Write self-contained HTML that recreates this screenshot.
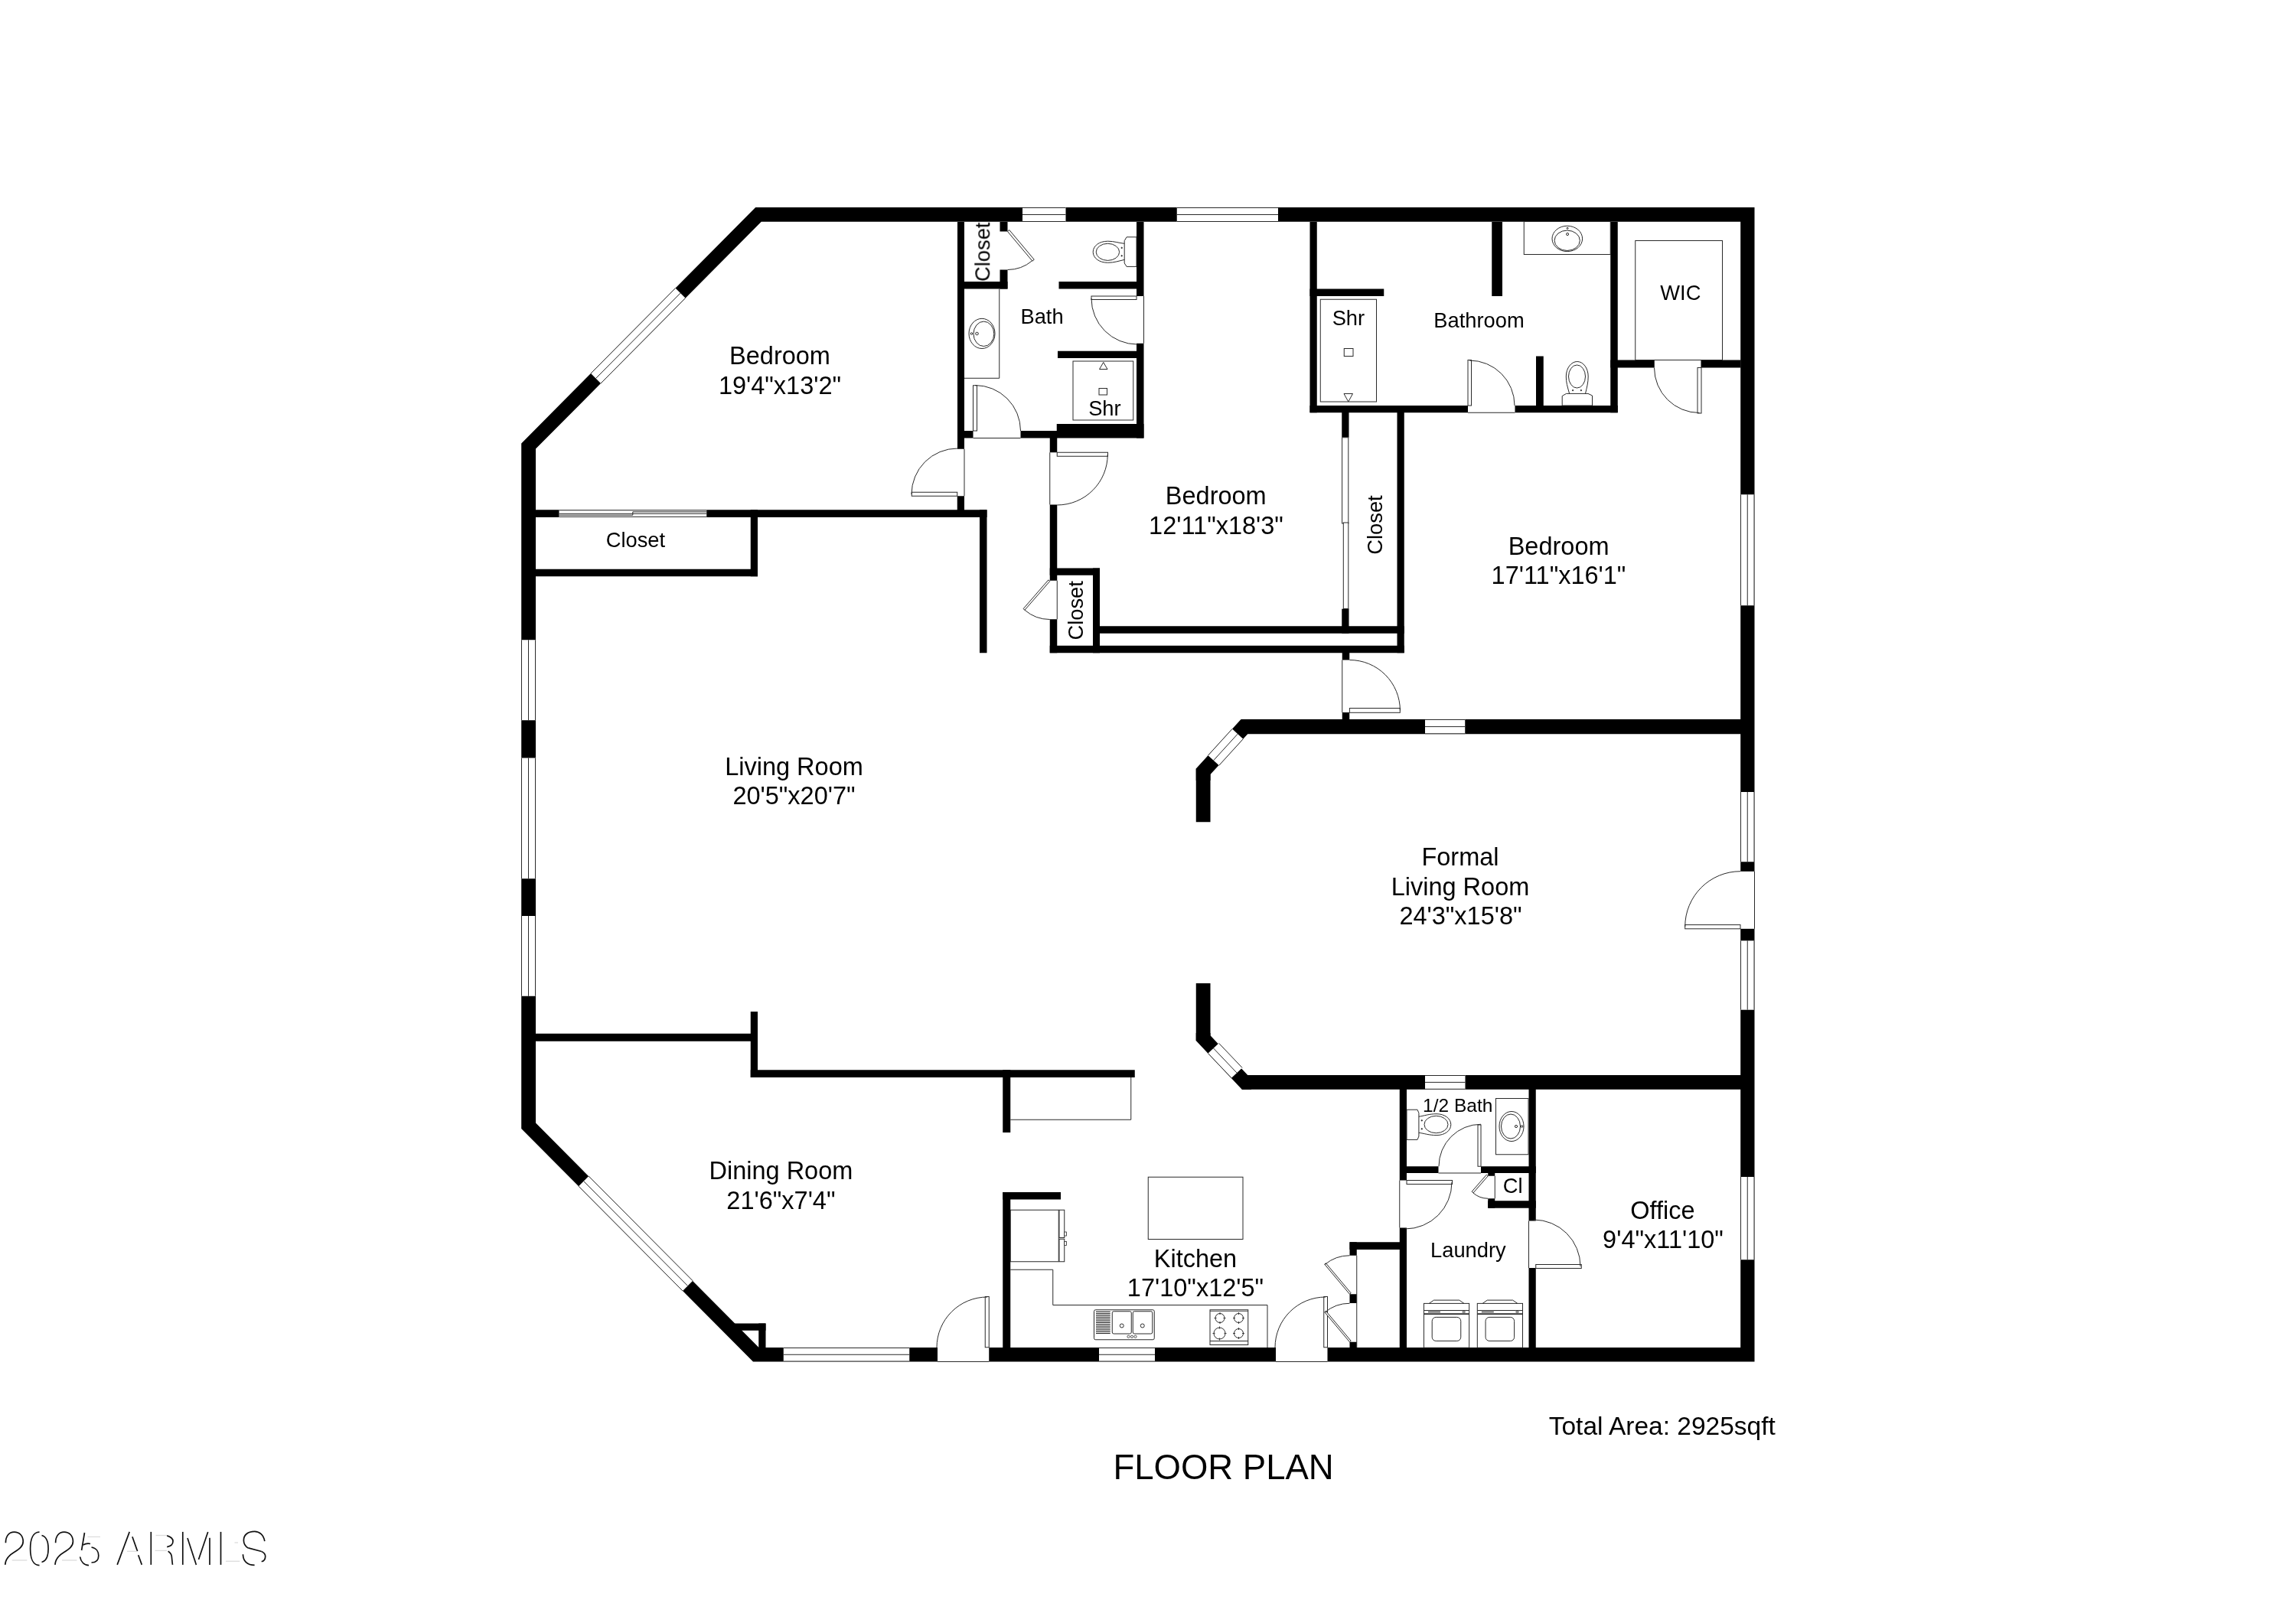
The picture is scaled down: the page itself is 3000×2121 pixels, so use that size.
<!DOCTYPE html>
<html><head><meta charset="utf-8"><title>Floor Plan</title>
<style>
html,body{margin:0;padding:0;background:#fff;}
svg{display:block;}
text{font-family:"Liberation Sans",sans-serif;}
</style></head>
<body>
<svg width="3000" height="2121" viewBox="0 0 3000 2121">
<rect x="0" y="0" width="3000" height="2121" fill="#fff"/>
<path fill="#000" fill-rule="evenodd" d="M987.2,271 L2292.5,271 L2292.5,1779.5 L984,1779.5 L681.2,1475 L681.2,579.4 Z M994.75,289.8 L2274.2,289.8 L2274.2,1761 L991.5,1761 L700,1467.5 L700,586.6 Z"/>
<rect x="1251.00" y="290.00" width="9.00" height="296.75" fill="#000"/>
<rect x="1306.50" y="290.00" width="10.00" height="12.50" fill="#000"/>
<rect x="1306.50" y="352.50" width="10.00" height="25.00" fill="#000"/>
<rect x="1251.00" y="368.00" width="65.50" height="9.50" fill="#000"/>
<rect x="1383.50" y="368.00" width="110.50" height="9.50" fill="#000"/>
<rect x="1485.00" y="290.00" width="9.50" height="97.00" fill="#000"/>
<rect x="1485.00" y="448.75" width="9.50" height="123.75" fill="#000"/>
<rect x="1382.00" y="458.75" width="103.00" height="9.25" fill="#000"/>
<rect x="1251.00" y="563.00" width="20.50" height="9.50" fill="#000"/>
<rect x="1333.50" y="563.00" width="47.25" height="9.50" fill="#000"/>
<rect x="1380.75" y="554.00" width="113.75" height="18.50" fill="#000"/>
<rect x="1371.75" y="563.00" width="9.50" height="28.25" fill="#000"/>
<rect x="1371.75" y="659.50" width="9.50" height="99.25" fill="#000"/>
<rect x="1371.75" y="809.25" width="9.50" height="44.00" fill="#000"/>
<rect x="1371.75" y="742.50" width="65.25" height="9.25" fill="#000"/>
<rect x="1428.00" y="742.50" width="9.00" height="110.75" fill="#000"/>
<rect x="1428.00" y="818.25" width="406.75" height="9.50" fill="#000"/>
<rect x="1371.75" y="843.75" width="463.00" height="9.50" fill="#000"/>
<rect x="1825.50" y="530.00" width="9.25" height="323.25" fill="#000"/>
<rect x="1753.25" y="530.00" width="9.25" height="41.75" fill="#000"/>
<rect x="1753.25" y="795.50" width="9.25" height="32.25" fill="#000"/>
<rect x="1711.50" y="290.00" width="9.25" height="249.25" fill="#000"/>
<rect x="1711.50" y="377.50" width="96.75" height="9.50" fill="#000"/>
<rect x="1711.50" y="530.00" width="206.50" height="9.25" fill="#000"/>
<rect x="1979.50" y="530.00" width="134.25" height="9.25" fill="#000"/>
<rect x="1949.25" y="290.00" width="13.75" height="97.00" fill="#000"/>
<rect x="2007.00" y="465.50" width="9.75" height="73.50" fill="#000"/>
<rect x="2104.25" y="290.00" width="9.50" height="249.25" fill="#000"/>
<rect x="2104.25" y="470.50" width="57.50" height="10.00" fill="#000"/>
<rect x="2222.50" y="470.50" width="52.00" height="10.00" fill="#000"/>
<rect x="1753.75" y="853.00" width="9.50" height="9.50" fill="#000"/>
<rect x="1753.75" y="931.00" width="9.50" height="10.00" fill="#000"/>
<rect x="695.00" y="666.25" width="594.50" height="9.75" fill="#000"/>
<rect x="980.75" y="666.25" width="9.25" height="87.00" fill="#000"/>
<rect x="695.00" y="743.75" width="295.00" height="9.50" fill="#000"/>
<rect x="1280.00" y="666.25" width="9.50" height="187.00" fill="#000"/>
<rect x="1250.75" y="648.25" width="9.25" height="27.75" fill="#000"/>
<rect x="1621.50" y="940.00" width="658.50" height="19.25" fill="#000"/>
<rect x="1562.75" y="1004.50" width="18.75" height="69.75" fill="#000"/>
<rect x="1562.75" y="1285.00" width="18.75" height="75.00" fill="#000"/>
<rect x="1622.75" y="1405.00" width="657.25" height="18.75" fill="#000"/>
<rect x="695.00" y="1350.75" width="295.00" height="10.00" fill="#000"/>
<rect x="980.75" y="1322.00" width="9.25" height="86.00" fill="#000"/>
<rect x="980.75" y="1398.25" width="502.00" height="9.75" fill="#000"/>
<rect x="1310.25" y="1398.25" width="10.00" height="81.75" fill="#000"/>
<rect x="1310.25" y="1558.00" width="10.00" height="207.00" fill="#000"/>
<rect x="1310.25" y="1558.00" width="75.75" height="9.50" fill="#000"/>
<rect x="960.00" y="1729.50" width="40.50" height="9.25" fill="#000"/>
<rect x="991.25" y="1729.50" width="9.25" height="35.50" fill="#000"/>
<rect x="1763.50" y="1623.25" width="74.50" height="9.75" fill="#000"/>
<rect x="1763.50" y="1623.25" width="9.25" height="17.50" fill="#000"/>
<rect x="1763.50" y="1691.25" width="9.25" height="11.75" fill="#000"/>
<rect x="1763.50" y="1753.75" width="9.25" height="11.25" fill="#000"/>
<rect x="1828.75" y="1418.00" width="9.25" height="124.50" fill="#000"/>
<rect x="1828.75" y="1604.50" width="9.25" height="160.50" fill="#000"/>
<rect x="1997.50" y="1418.00" width="9.25" height="177.50" fill="#000"/>
<rect x="1997.50" y="1657.00" width="9.25" height="108.00" fill="#000"/>
<rect x="1838.00" y="1524.25" width="41.50" height="8.75" fill="#000"/>
<rect x="1935.00" y="1524.25" width="71.75" height="8.75" fill="#000"/>
<rect x="1944.25" y="1569.25" width="62.50" height="9.50" fill="#000"/>
<rect x="1944.25" y="1566.25" width="9.00" height="12.50" fill="#000"/>
<rect x="1944.25" y="1533.00" width="9.00" height="3.75" fill="#000"/>
<polygon points="1621.50,940.00 1630.25,959.25 1581.50,1012.00 1581.50,1020.00 1562.75,1020.00 1562.75,1004.50" fill="#000" />
<polygon points="1562.75,1350.00 1562.75,1360.00 1622.75,1423.75 1635.00,1423.75 1635.00,1405.00 1630.25,1405.00 1581.50,1353.25 1581.50,1350.00" fill="#000" />
<rect x="1336.00" y="271.00" width="56.50" height="19.00" fill="#fff"/>
<line x1="1336.00" y1="271.50" x2="1392.50" y2="271.50" stroke="#2a2a2a" stroke-width="1.0"/>
<line x1="1336.00" y1="289.50" x2="1392.50" y2="289.50" stroke="#2a2a2a" stroke-width="1.0"/>
<line x1="1336.00" y1="280.50" x2="1392.50" y2="280.50" stroke="#2a2a2a" stroke-width="1.0"/>
<rect x="1537.75" y="271.00" width="132.25" height="19.00" fill="#fff"/>
<line x1="1537.75" y1="271.50" x2="1670.00" y2="271.50" stroke="#2a2a2a" stroke-width="1.0"/>
<line x1="1537.75" y1="289.50" x2="1670.00" y2="289.50" stroke="#2a2a2a" stroke-width="1.0"/>
<line x1="1537.75" y1="280.50" x2="1670.00" y2="280.50" stroke="#2a2a2a" stroke-width="1.0"/>
<rect x="2274.00" y="646.25" width="18.50" height="145.00" fill="#fff"/>
<line x1="2274.50" y1="646.25" x2="2274.50" y2="791.25" stroke="#2a2a2a" stroke-width="1.0"/>
<line x1="2292.00" y1="646.25" x2="2292.00" y2="791.25" stroke="#2a2a2a" stroke-width="1.0"/>
<line x1="2283.25" y1="646.25" x2="2283.25" y2="791.25" stroke="#2a2a2a" stroke-width="1.0"/>
<rect x="2274.00" y="1035.00" width="18.50" height="91.25" fill="#fff"/>
<line x1="2274.50" y1="1035.00" x2="2274.50" y2="1126.25" stroke="#2a2a2a" stroke-width="1.0"/>
<line x1="2292.00" y1="1035.00" x2="2292.00" y2="1126.25" stroke="#2a2a2a" stroke-width="1.0"/>
<line x1="2283.25" y1="1035.00" x2="2283.25" y2="1126.25" stroke="#2a2a2a" stroke-width="1.0"/>
<rect x="2274.00" y="1229.30" width="18.50" height="90.40" fill="#fff"/>
<line x1="2274.50" y1="1229.30" x2="2274.50" y2="1319.70" stroke="#2a2a2a" stroke-width="1.0"/>
<line x1="2292.00" y1="1229.30" x2="2292.00" y2="1319.70" stroke="#2a2a2a" stroke-width="1.0"/>
<line x1="2283.25" y1="1229.30" x2="2283.25" y2="1319.70" stroke="#2a2a2a" stroke-width="1.0"/>
<rect x="2274.00" y="1538.00" width="18.50" height="108.25" fill="#fff"/>
<line x1="2274.50" y1="1538.00" x2="2274.50" y2="1646.25" stroke="#2a2a2a" stroke-width="1.0"/>
<line x1="2292.00" y1="1538.00" x2="2292.00" y2="1646.25" stroke="#2a2a2a" stroke-width="1.0"/>
<line x1="2283.25" y1="1538.00" x2="2283.25" y2="1646.25" stroke="#2a2a2a" stroke-width="1.0"/>
<rect x="681.00" y="836.25" width="19.00" height="105.00" fill="#fff"/>
<line x1="681.50" y1="836.25" x2="681.50" y2="941.25" stroke="#2a2a2a" stroke-width="1.0"/>
<line x1="699.50" y1="836.25" x2="699.50" y2="941.25" stroke="#2a2a2a" stroke-width="1.0"/>
<line x1="690.50" y1="836.25" x2="690.50" y2="941.25" stroke="#2a2a2a" stroke-width="1.0"/>
<rect x="681.00" y="990.50" width="19.00" height="157.75" fill="#fff"/>
<line x1="681.50" y1="990.50" x2="681.50" y2="1148.25" stroke="#2a2a2a" stroke-width="1.0"/>
<line x1="699.50" y1="990.50" x2="699.50" y2="1148.25" stroke="#2a2a2a" stroke-width="1.0"/>
<line x1="690.50" y1="990.50" x2="690.50" y2="1148.25" stroke="#2a2a2a" stroke-width="1.0"/>
<rect x="681.00" y="1197.00" width="19.00" height="104.75" fill="#fff"/>
<line x1="681.50" y1="1197.00" x2="681.50" y2="1301.75" stroke="#2a2a2a" stroke-width="1.0"/>
<line x1="699.50" y1="1197.00" x2="699.50" y2="1301.75" stroke="#2a2a2a" stroke-width="1.0"/>
<line x1="690.50" y1="1197.00" x2="690.50" y2="1301.75" stroke="#2a2a2a" stroke-width="1.0"/>
<rect x="1023.75" y="1761.00" width="164.50" height="18.50" fill="#fff"/>
<line x1="1023.75" y1="1761.50" x2="1188.25" y2="1761.50" stroke="#2a2a2a" stroke-width="1.0"/>
<line x1="1023.75" y1="1779.00" x2="1188.25" y2="1779.00" stroke="#2a2a2a" stroke-width="1.0"/>
<line x1="1023.75" y1="1770.25" x2="1188.25" y2="1770.25" stroke="#2a2a2a" stroke-width="1.0"/>
<rect x="1436.00" y="1761.00" width="73.00" height="18.50" fill="#fff"/>
<line x1="1436.00" y1="1761.50" x2="1509.00" y2="1761.50" stroke="#2a2a2a" stroke-width="1.0"/>
<line x1="1436.00" y1="1779.00" x2="1509.00" y2="1779.00" stroke="#2a2a2a" stroke-width="1.0"/>
<line x1="1436.00" y1="1770.25" x2="1509.00" y2="1770.25" stroke="#2a2a2a" stroke-width="1.0"/>
<rect x="1862.00" y="940.00" width="52.25" height="19.25" fill="#fff"/>
<line x1="1862.00" y1="940.50" x2="1914.25" y2="940.50" stroke="#2a2a2a" stroke-width="1.0"/>
<line x1="1862.00" y1="958.75" x2="1914.25" y2="958.75" stroke="#2a2a2a" stroke-width="1.0"/>
<line x1="1862.00" y1="949.62" x2="1914.25" y2="949.62" stroke="#2a2a2a" stroke-width="1.0"/>
<rect x="1862.00" y="1405.00" width="52.50" height="18.75" fill="#fff"/>
<line x1="1862.00" y1="1405.50" x2="1914.50" y2="1405.50" stroke="#2a2a2a" stroke-width="1.0"/>
<line x1="1862.00" y1="1423.25" x2="1914.50" y2="1423.25" stroke="#2a2a2a" stroke-width="1.0"/>
<line x1="1862.00" y1="1414.38" x2="1914.50" y2="1414.38" stroke="#2a2a2a" stroke-width="1.0"/>
<polygon points="772.00,488.00 882.50,376.60 895.50,389.60 785.00,501.00" fill="#fff" />
<line x1="772.00" y1="488.00" x2="882.50" y2="376.60" stroke="#2a2a2a" stroke-width="1.0"/>
<line x1="785.00" y1="501.00" x2="895.50" y2="389.60" stroke="#2a2a2a" stroke-width="1.0"/>
<line x1="778.50" y1="494.50" x2="889.00" y2="383.10" stroke="#2a2a2a" stroke-width="1.0"/>
<polygon points="756.00,1550.20 892.00,1687.00 905.20,1673.80 769.20,1537.00" fill="#fff" />
<line x1="756.00" y1="1550.20" x2="892.00" y2="1687.00" stroke="#2a2a2a" stroke-width="1.0"/>
<line x1="769.20" y1="1537.00" x2="905.20" y2="1673.80" stroke="#2a2a2a" stroke-width="1.0"/>
<line x1="762.60" y1="1543.60" x2="898.60" y2="1680.40" stroke="#2a2a2a" stroke-width="1.0"/>
<polygon points="1578.50,987.20 1610.00,952.60 1624.30,965.70 1592.80,1000.30" fill="#fff" />
<line x1="1578.50" y1="987.20" x2="1610.00" y2="952.60" stroke="#2a2a2a" stroke-width="1.0"/>
<line x1="1592.80" y1="1000.30" x2="1624.30" y2="965.70" stroke="#2a2a2a" stroke-width="1.0"/>
<line x1="1585.65" y1="993.75" x2="1617.15" y2="959.15" stroke="#2a2a2a" stroke-width="1.0"/>
<polygon points="1578.50,1376.60 1609.00,1408.70 1623.10,1395.40 1592.60,1363.30" fill="#fff" />
<line x1="1578.50" y1="1376.60" x2="1609.00" y2="1408.70" stroke="#2a2a2a" stroke-width="1.0"/>
<line x1="1592.60" y1="1363.30" x2="1623.10" y2="1395.40" stroke="#2a2a2a" stroke-width="1.0"/>
<line x1="1585.55" y1="1369.95" x2="1616.05" y2="1402.05" stroke="#2a2a2a" stroke-width="1.0"/>
<rect x="730.50" y="666.25" width="192.75" height="9.75" fill="#fff"/>
<line x1="730.50" y1="666.80" x2="923.10" y2="666.80" stroke="#2a2a2a" stroke-width="1.0"/>
<line x1="730.50" y1="671.30" x2="923.10" y2="671.30" stroke="#2a2a2a" stroke-width="1.0"/>
<line x1="730.50" y1="673.20" x2="826.80" y2="673.20" stroke="#2a2a2a" stroke-width="1.0"/>
<line x1="826.80" y1="668.90" x2="923.10" y2="668.90" stroke="#2a2a2a" stroke-width="1.0"/>
<line x1="826.80" y1="668.90" x2="826.80" y2="673.20" stroke="#2a2a2a" stroke-width="1.0"/>
<line x1="730.50" y1="675.40" x2="923.10" y2="675.40" stroke="#2a2a2a" stroke-width="1.0"/>
<rect x="1753.25" y="571.75" width="9.25" height="223.75" fill="#fff"/>
<rect x="1753.60" y="571.75" width="8.20" height="112.25" fill="#fff" stroke="#2a2a2a" stroke-width="1.0" rx="0"/>
<rect x="1755.30" y="683.00" width="6.50" height="112.50" fill="#fff" stroke="#2a2a2a" stroke-width="1.0" rx="0"/>
<rect x="1225.00" y="1761.00" width="67.25" height="18.50" fill="#fff"/>
<line x1="1225.00" y1="1779.50" x2="1292.25" y2="1779.50" stroke="#2a2a2a" stroke-width="1.0"/>
<rect x="1667.00" y="1761.00" width="67.50" height="18.50" fill="#fff"/>
<line x1="1667.00" y1="1779.50" x2="1734.50" y2="1779.50" stroke="#2a2a2a" stroke-width="1.0"/>
<rect x="2274.00" y="1138.80" width="18.50" height="75.00" fill="#fff"/>
<line x1="2292.50" y1="1138.80" x2="2292.50" y2="1213.80" stroke="#2a2a2a" stroke-width="1.0"/>
<polygon points="1316.50,302.50 1348.96,341.19 1351.26,339.26 1318.80,300.57" fill="#fff" stroke="#2a2a2a" stroke-width="1.0"/>
<path d="M1348.64,340.80 A50.00,50.00 0 0 1 1316.50,352.50" stroke="#2a2a2a" stroke-width="1.0" fill="none"/>
<rect x="1426.00" y="387.00" width="59.00" height="4.50" fill="#fff" stroke="#2a2a2a" stroke-width="1.0" rx="0"/>
<path d="M1426.00,390.00 A60.00,60.00 0 0 0 1486.00,450.00" stroke="#2a2a2a" stroke-width="1.0" fill="none"/>
<line x1="1494.50" y1="387.00" x2="1494.50" y2="448.75" stroke="#2a2a2a" stroke-width="1.0"/>
<rect x="1271.50" y="503.75" width="5.00" height="59.25" fill="#fff" stroke="#2a2a2a" stroke-width="1.0" rx="0"/>
<path d="M1274.00,503.50 A59.50,59.50 0 0 1 1333.50,563.00" stroke="#2a2a2a" stroke-width="1.0" fill="none"/>
<line x1="1271.50" y1="572.50" x2="1333.50" y2="572.50" stroke="#2a2a2a" stroke-width="1.0"/>
<rect x="1191.25" y="643.25" width="59.50" height="5.00" fill="#fff" stroke="#2a2a2a" stroke-width="1.0" rx="0"/>
<path d="M1191.00,646.00 A60.00,60.00 0 0 1 1251.00,586.00" stroke="#2a2a2a" stroke-width="1.0" fill="none"/>
<line x1="1260.00" y1="586.75" x2="1260.00" y2="648.25" stroke="#2a2a2a" stroke-width="1.0"/>
<rect x="1381.25" y="591.25" width="66.25" height="5.00" fill="#fff" stroke="#2a2a2a" stroke-width="1.0" rx="0"/>
<path d="M1447.25,594.00 A66.00,66.00 0 0 1 1381.25,660.00" stroke="#2a2a2a" stroke-width="1.0" fill="none"/>
<line x1="1371.75" y1="591.25" x2="1371.75" y2="659.50" stroke="#2a2a2a" stroke-width="1.0"/>
<polygon points="1371.75,759.50 1338.95,797.24 1337.06,795.60 1369.86,757.86" fill="#fff" stroke="#2a2a2a" stroke-width="1.0"/>
<path d="M1371.75,809.50 A50.00,50.00 0 0 1 1338.95,797.24" stroke="#2a2a2a" stroke-width="1.0" fill="none"/>
<line x1="1381.25" y1="758.75" x2="1381.25" y2="809.25" stroke="#2a2a2a" stroke-width="1.0"/>
<rect x="1918.00" y="470.50" width="4.50" height="59.50" fill="#fff" stroke="#2a2a2a" stroke-width="1.0" rx="0"/>
<path d="M1920.00,471.00 A59.00,59.00 0 0 1 1979.00,530.00" stroke="#2a2a2a" stroke-width="1.0" fill="none"/>
<line x1="1918.00" y1="539.25" x2="1979.50" y2="539.25" stroke="#2a2a2a" stroke-width="1.0"/>
<rect x="2218.00" y="480.50" width="5.00" height="59.50" fill="#fff" stroke="#2a2a2a" stroke-width="1.0" rx="0"/>
<path d="M2220.50,539.50 A59.00,59.00 0 0 1 2161.50,480.50" stroke="#2a2a2a" stroke-width="1.0" fill="none"/>
<line x1="2161.75" y1="470.50" x2="2222.50" y2="470.50" stroke="#2a2a2a" stroke-width="1.0"/>
<rect x="1763.40" y="925.50" width="65.90" height="5.80" fill="#fff" stroke="#2a2a2a" stroke-width="1.0" rx="0"/>
<path d="M1763.40,862.50 A66.00,66.00 0 0 1 1829.40,928.50" stroke="#2a2a2a" stroke-width="1.0" fill="none"/>
<line x1="1753.75" y1="862.50" x2="1753.75" y2="931.00" stroke="#2a2a2a" stroke-width="1.0"/>
<rect x="2201.70" y="1208.60" width="72.30" height="5.20" fill="#fff" stroke="#2a2a2a" stroke-width="1.0" rx="0"/>
<path d="M2201.70,1211.00 A72.30,72.30 0 0 1 2274.00,1138.70" stroke="#2a2a2a" stroke-width="1.0" fill="none"/>
<rect x="1287.25" y="1694.50" width="5.00" height="66.25" fill="#fff" stroke="#2a2a2a" stroke-width="1.0" rx="0"/>
<path d="M1224.00,1761.00 A66.00,66.00 0 0 1 1290.00,1695.00" stroke="#2a2a2a" stroke-width="1.0" fill="none"/>
<rect x="1729.75" y="1694.50" width="4.75" height="66.25" fill="#fff" stroke="#2a2a2a" stroke-width="1.0" rx="0"/>
<path d="M1666.00,1761.00 A66.00,66.00 0 0 1 1732.00,1695.00" stroke="#2a2a2a" stroke-width="1.0" fill="none"/>
<polygon points="1763.50,1691.25 1730.72,1652.18 1732.40,1650.77 1765.19,1689.84" fill="#fff" stroke="#2a2a2a" stroke-width="1.0"/>
<path d="M1731.04,1652.56 A50.50,50.50 0 0 1 1763.50,1640.75" stroke="#2a2a2a" stroke-width="1.0" fill="none"/>
<polygon points="1763.50,1753.75 1730.72,1714.68 1732.40,1713.27 1765.19,1752.34" fill="#fff" stroke="#2a2a2a" stroke-width="1.0"/>
<path d="M1731.04,1715.06 A50.50,50.50 0 0 1 1763.50,1703.25" stroke="#2a2a2a" stroke-width="1.0" fill="none"/>
<line x1="1772.75" y1="1640.75" x2="1772.75" y2="1761.00" stroke="#2a2a2a" stroke-width="1.0"/>
<rect x="1931.00" y="1470.00" width="4.00" height="54.25" fill="#fff" stroke="#2a2a2a" stroke-width="1.0" rx="0"/>
<path d="M1935.00,1469.25 A55.00,55.00 0 0 0 1880.00,1524.25" stroke="#2a2a2a" stroke-width="1.0" fill="none"/>
<line x1="1879.50" y1="1533.00" x2="1935.00" y2="1533.00" stroke="#2a2a2a" stroke-width="1.0"/>
<rect x="1838.00" y="1542.50" width="59.50" height="5.00" fill="#fff" stroke="#2a2a2a" stroke-width="1.0" rx="0"/>
<path d="M1897.00,1545.00 A61.00,61.00 0 0 1 1836.00,1606.00" stroke="#2a2a2a" stroke-width="1.0" fill="none"/>
<line x1="1828.75" y1="1542.50" x2="1828.75" y2="1604.50" stroke="#2a2a2a" stroke-width="1.0"/>
<polygon points="1944.25,1536.75 1925.03,1558.86 1923.14,1557.22 1942.36,1535.11" fill="#fff" stroke="#2a2a2a" stroke-width="1.0"/>
<path d="M1944.25,1566.25 A29.50,29.50 0 0 1 1924.90,1559.01" stroke="#2a2a2a" stroke-width="1.0" fill="none"/>
<line x1="1953.25" y1="1536.75" x2="1953.25" y2="1566.25" stroke="#2a2a2a" stroke-width="1.0"/>
<rect x="2006.75" y="1652.50" width="59.50" height="5.00" fill="#fff" stroke="#2a2a2a" stroke-width="1.0" rx="0"/>
<path d="M2004.00,1594.00 A61.00,61.00 0 0 1 2065.00,1655.00" stroke="#2a2a2a" stroke-width="1.0" fill="none"/>
<line x1="1997.50" y1="1595.50" x2="1997.50" y2="1657.00" stroke="#2a2a2a" stroke-width="1.0"/>
<path d="M1260,494.25 H1305.75 V377.5" stroke="#2a2a2a" stroke-width="1.0" fill="none"/>
<ellipse cx="1283.00" cy="435.90" rx="17.00" ry="19.60" stroke="#2a2a2a" stroke-width="1.0" fill="none"/>
<ellipse cx="1285.40" cy="436.30" rx="13.40" ry="16.20" stroke="#2a2a2a" stroke-width="1.0" fill="none"/>
<ellipse cx="1269.50" cy="436.00" rx="1.30" ry="1.30" stroke="#2a2a2a" stroke-width="1.0" fill="none"/>
<ellipse cx="1276.50" cy="436.00" rx="1.80" ry="1.80" stroke="#2a2a2a" stroke-width="1.0" fill="none"/>
<polygon points="1485.00,309.80 1472.10,309.80 1469.20,314.60 1469.20,343.90 1472.10,348.40 1485.00,348.40" fill="#fff" stroke="#2a2a2a" stroke-width="1.0"/>
<path d="M1469.2,318.3 C1462,317.6 1456,315.2 1447.5,315.2 C1436,315.2 1428.2,321.5 1428.2,329.3 C1428.2,337 1436,343.3 1447.5,343.3 C1456,343.3 1462,341 1469.2,339.4" stroke="#2a2a2a" stroke-width="1.0" fill="none"/>
<ellipse cx="1447.40" cy="329.35" rx="15.20" ry="11.05" stroke="#2a2a2a" stroke-width="1.0" fill="none"/>
<ellipse cx="1465.70" cy="323.90" rx="0.70" ry="0.70" stroke="#2a2a2a" stroke-width="1.0" fill="#2a2a2a"/>
<ellipse cx="1465.70" cy="334.30" rx="0.70" ry="0.70" stroke="#2a2a2a" stroke-width="1.0" fill="#2a2a2a"/>
<rect x="1402.00" y="472.00" width="78.75" height="77.00" fill="none" stroke="#2a2a2a" stroke-width="1.0" rx="0"/>
<polygon points="1436.50,482.50 1441.75,473.50 1447.00,482.50" fill="#fff" stroke="#2a2a2a" stroke-width="1.0"/>
<rect x="1436.00" y="507.50" width="10.50" height="8.50" fill="#fff" stroke="#2a2a2a" stroke-width="1.0" rx="0"/>
<rect x="1725.25" y="391.25" width="73.25" height="133.75" fill="none" stroke="#2a2a2a" stroke-width="1.0" rx="0"/>
<rect x="1756.25" y="455.50" width="11.75" height="10.00" fill="#fff" stroke="#2a2a2a" stroke-width="1.0" rx="0"/>
<polygon points="1756.00,514.50 1767.50,514.50 1761.75,525.00" fill="#fff" stroke="#2a2a2a" stroke-width="1.0"/>
<rect x="1991.25" y="289.50" width="113.00" height="43.00" fill="none" stroke="#2a2a2a" stroke-width="1.0" rx="0"/>
<ellipse cx="2047.80" cy="311.90" rx="19.80" ry="16.70" stroke="#2a2a2a" stroke-width="1.0" fill="none"/>
<ellipse cx="2047.70" cy="314.30" rx="16.60" ry="13.20" stroke="#2a2a2a" stroke-width="1.0" fill="none"/>
<ellipse cx="2048.10" cy="298.30" rx="1.00" ry="1.00" stroke="#2a2a2a" stroke-width="1.0" fill="none"/>
<ellipse cx="2048.10" cy="306.00" rx="1.50" ry="1.60" stroke="#2a2a2a" stroke-width="1.0" fill="none"/>
<polygon points="2041.20,530.00 2041.20,517.50 2046.50,514.40 2075.00,514.40 2080.50,517.00 2080.50,530.00" fill="#fff" stroke="#2a2a2a" stroke-width="1.0"/>
<path d="M2050.6,514.4 C2048,505 2046.3,500 2046.3,492 C2046.3,481 2053,472.5 2060.8,472.5 C2068.6,472.5 2075.2,481 2075.2,492 C2075.2,500 2073.5,506 2071.5,514.4" stroke="#2a2a2a" stroke-width="1.0" fill="none"/>
<ellipse cx="2060.50" cy="492.00" rx="11.00" ry="15.00" stroke="#2a2a2a" stroke-width="1.0" fill="none"/>
<ellipse cx="2055.10" cy="510.10" rx="0.70" ry="0.70" stroke="#2a2a2a" stroke-width="1.0" fill="#2a2a2a"/>
<ellipse cx="2065.90" cy="510.10" rx="0.70" ry="0.70" stroke="#2a2a2a" stroke-width="1.0" fill="#2a2a2a"/>
<rect x="2136.75" y="314.50" width="113.75" height="156.00" fill="none" stroke="#2a2a2a" stroke-width="1.0" rx="0"/>
<path d="M1320.25,1463.25 H1477.75 V1408" stroke="#2a2a2a" stroke-width="1.0" fill="none"/>
<rect x="1500.25" y="1538.25" width="123.75" height="81.25" fill="none" stroke="#2a2a2a" stroke-width="1.0" rx="0"/>
<rect x="1320.25" y="1581.25" width="63.00" height="67.50" fill="none" stroke="#2a2a2a" stroke-width="1.0" rx="0"/>
<rect x="1384.00" y="1581.25" width="6.75" height="36.25" fill="#fff" stroke="#2a2a2a" stroke-width="1.0" rx="0"/>
<rect x="1384.00" y="1619.25" width="6.75" height="29.50" fill="#fff" stroke="#2a2a2a" stroke-width="1.0" rx="0"/>
<rect x="1390.75" y="1610.00" width="2.75" height="5.00" fill="#fff" stroke="#2a2a2a" stroke-width="0.8" rx="0"/>
<rect x="1390.75" y="1622.50" width="2.75" height="5.00" fill="#fff" stroke="#2a2a2a" stroke-width="0.8" rx="0"/>
<path d="M1320.25,1659.25 H1375.75 V1705.5 H1656 V1761" stroke="#2a2a2a" stroke-width="1.0" fill="none"/>
<rect x="1429.50" y="1711.75" width="78.75" height="39.00" fill="none" stroke="#2a2a2a" stroke-width="1.0" rx="2"/>
<line x1="1432.00" y1="1714.30" x2="1450.70" y2="1714.30" stroke="#2a2a2a" stroke-width="1.15"/>
<line x1="1432.00" y1="1716.65" x2="1450.70" y2="1716.65" stroke="#2a2a2a" stroke-width="1.15"/>
<line x1="1432.00" y1="1719.00" x2="1450.70" y2="1719.00" stroke="#2a2a2a" stroke-width="1.15"/>
<line x1="1432.00" y1="1721.35" x2="1450.70" y2="1721.35" stroke="#2a2a2a" stroke-width="1.15"/>
<line x1="1432.00" y1="1723.70" x2="1450.70" y2="1723.70" stroke="#2a2a2a" stroke-width="1.15"/>
<line x1="1432.00" y1="1726.05" x2="1450.70" y2="1726.05" stroke="#2a2a2a" stroke-width="1.15"/>
<line x1="1432.00" y1="1728.40" x2="1450.70" y2="1728.40" stroke="#2a2a2a" stroke-width="1.15"/>
<line x1="1432.00" y1="1730.75" x2="1450.70" y2="1730.75" stroke="#2a2a2a" stroke-width="1.15"/>
<line x1="1432.00" y1="1733.10" x2="1450.70" y2="1733.10" stroke="#2a2a2a" stroke-width="1.15"/>
<line x1="1432.00" y1="1735.45" x2="1450.70" y2="1735.45" stroke="#2a2a2a" stroke-width="1.15"/>
<line x1="1432.00" y1="1737.80" x2="1450.70" y2="1737.80" stroke="#2a2a2a" stroke-width="1.15"/>
<line x1="1432.00" y1="1740.15" x2="1450.70" y2="1740.15" stroke="#2a2a2a" stroke-width="1.15"/>
<line x1="1432.00" y1="1742.50" x2="1450.70" y2="1742.50" stroke="#2a2a2a" stroke-width="1.15"/>
<rect x="1453.25" y="1713.75" width="25.00" height="29.25" fill="none" stroke="#2a2a2a" stroke-width="1.0" rx="2"/>
<rect x="1480.25" y="1713.75" width="25.50" height="29.25" fill="none" stroke="#2a2a2a" stroke-width="1.0" rx="2"/>
<ellipse cx="1465.75" cy="1732.50" rx="2.50" ry="2.50" stroke="#2a2a2a" stroke-width="1.0" fill="none"/>
<ellipse cx="1492.75" cy="1732.50" rx="2.50" ry="2.50" stroke="#2a2a2a" stroke-width="1.0" fill="none"/>
<ellipse cx="1474.50" cy="1746.75" rx="1.60" ry="1.60" stroke="#2a2a2a" stroke-width="0.8" fill="none"/>
<ellipse cx="1479.00" cy="1746.75" rx="1.60" ry="1.60" stroke="#2a2a2a" stroke-width="0.8" fill="none"/>
<ellipse cx="1483.50" cy="1746.75" rx="1.60" ry="1.60" stroke="#2a2a2a" stroke-width="0.8" fill="none"/>
<rect x="1581.00" y="1711.75" width="49.75" height="45.75" fill="none" stroke="#2a2a2a" stroke-width="1.0" rx="0"/>
<line x1="1581.00" y1="1752.50" x2="1630.75" y2="1752.50" stroke="#2a2a2a" stroke-width="1.0"/>
<line x1="1581.00" y1="1713.40" x2="1630.75" y2="1713.40" stroke="#2a2a2a" stroke-width="0.8"/>
<ellipse cx="1594.00" cy="1722.50" rx="6.00" ry="6.00" stroke="#2a2a2a" stroke-width="1.0" fill="none"/>
<line x1="1594.00" y1="1715.00" x2="1594.00" y2="1718.00" stroke="#2a2a2a" stroke-width="0.9"/>
<line x1="1594.00" y1="1727.00" x2="1594.00" y2="1730.00" stroke="#2a2a2a" stroke-width="0.9"/>
<line x1="1586.50" y1="1722.50" x2="1589.50" y2="1722.50" stroke="#2a2a2a" stroke-width="0.9"/>
<line x1="1598.50" y1="1722.50" x2="1601.50" y2="1722.50" stroke="#2a2a2a" stroke-width="0.9"/>
<ellipse cx="1618.50" cy="1722.50" rx="6.00" ry="6.00" stroke="#2a2a2a" stroke-width="1.0" fill="none"/>
<line x1="1618.50" y1="1715.00" x2="1618.50" y2="1718.00" stroke="#2a2a2a" stroke-width="0.9"/>
<line x1="1618.50" y1="1727.00" x2="1618.50" y2="1730.00" stroke="#2a2a2a" stroke-width="0.9"/>
<line x1="1611.00" y1="1722.50" x2="1614.00" y2="1722.50" stroke="#2a2a2a" stroke-width="0.9"/>
<line x1="1623.00" y1="1722.50" x2="1626.00" y2="1722.50" stroke="#2a2a2a" stroke-width="0.9"/>
<ellipse cx="1593.50" cy="1742.50" rx="7.50" ry="7.50" stroke="#2a2a2a" stroke-width="1.0" fill="none"/>
<line x1="1593.50" y1="1733.50" x2="1593.50" y2="1736.50" stroke="#2a2a2a" stroke-width="0.9"/>
<line x1="1593.50" y1="1748.50" x2="1593.50" y2="1751.50" stroke="#2a2a2a" stroke-width="0.9"/>
<line x1="1584.50" y1="1742.50" x2="1587.50" y2="1742.50" stroke="#2a2a2a" stroke-width="0.9"/>
<line x1="1599.50" y1="1742.50" x2="1602.50" y2="1742.50" stroke="#2a2a2a" stroke-width="0.9"/>
<ellipse cx="1618.50" cy="1742.50" rx="6.00" ry="6.00" stroke="#2a2a2a" stroke-width="1.0" fill="none"/>
<line x1="1618.50" y1="1735.00" x2="1618.50" y2="1738.00" stroke="#2a2a2a" stroke-width="0.9"/>
<line x1="1618.50" y1="1747.00" x2="1618.50" y2="1750.00" stroke="#2a2a2a" stroke-width="0.9"/>
<line x1="1611.00" y1="1742.50" x2="1614.00" y2="1742.50" stroke="#2a2a2a" stroke-width="0.9"/>
<line x1="1623.00" y1="1742.50" x2="1626.00" y2="1742.50" stroke="#2a2a2a" stroke-width="0.9"/>
<polygon points="1838.00,1450.20 1852.00,1450.20 1853.90,1454.50 1853.90,1485.00 1852.00,1489.40 1838.00,1489.40" fill="#fff" stroke="#2a2a2a" stroke-width="1.0"/>
<path d="M1853.9,1459.2 C1861,1458.2 1867,1455.7 1877,1455.7 C1888,1455.7 1895.8,1462 1895.8,1469.7 C1895.8,1477.5 1888,1483.6 1877,1483.6 C1867,1483.6 1861,1481.2 1853.9,1480.3" stroke="#2a2a2a" stroke-width="1.0" fill="none"/>
<ellipse cx="1876.50" cy="1469.50" rx="15.50" ry="11.20" stroke="#2a2a2a" stroke-width="1.0" fill="none"/>
<ellipse cx="1857.80" cy="1464.30" rx="0.70" ry="0.70" stroke="#2a2a2a" stroke-width="1.0" fill="#2a2a2a"/>
<ellipse cx="1857.80" cy="1475.30" rx="0.70" ry="0.70" stroke="#2a2a2a" stroke-width="1.0" fill="#2a2a2a"/>
<rect x="1954.50" y="1435.50" width="42.50" height="73.25" fill="none" stroke="#2a2a2a" stroke-width="1.0" rx="0"/>
<ellipse cx="1975.00" cy="1472.00" rx="16.00" ry="19.50" stroke="#2a2a2a" stroke-width="1.0" fill="none"/>
<ellipse cx="1974.00" cy="1472.00" rx="12.50" ry="16.00" stroke="#2a2a2a" stroke-width="1.0" fill="none"/>
<ellipse cx="1981.00" cy="1472.00" rx="1.60" ry="1.60" stroke="#2a2a2a" stroke-width="1.0" fill="none"/>
<ellipse cx="1988.50" cy="1472.00" rx="1.30" ry="1.30" stroke="#2a2a2a" stroke-width="1.0" fill="none"/>
<rect x="1860.45" y="1703.40" width="59.20" height="57.85" fill="none" stroke="#2a2a2a" stroke-width="1.0" rx="0"/>
<path d="M1867.3,1703.4 L1873.45,1699.1 H1906.75 L1912.95,1703.4" stroke="#2a2a2a" stroke-width="1.0" fill="none"/>
<line x1="1860.45" y1="1712.50" x2="1919.65" y2="1712.50" stroke="#2a2a2a" stroke-width="1.0"/>
<line x1="1860.45" y1="1717.10" x2="1919.65" y2="1717.10" stroke="#2a2a2a" stroke-width="1.6"/>
<line x1="1865.95" y1="1714.50" x2="1881.95" y2="1714.50" stroke="#2a2a2a" stroke-width="1.3"/>
<ellipse cx="1912.65" cy="1714.50" rx="2.00" ry="0.60" stroke="#2a2a2a" stroke-width="0.9" fill="none"/>
<rect x="1871.20" y="1721.40" width="37.55" height="31.00" fill="none" stroke="#2a2a2a" stroke-width="1.0" rx="5"/>
<rect x="1930.30" y="1703.40" width="59.20" height="57.85" fill="none" stroke="#2a2a2a" stroke-width="1.0" rx="0"/>
<path d="M1937.1499999999999,1703.4 L1943.3,1699.1 H1976.6 L1982.8,1703.4" stroke="#2a2a2a" stroke-width="1.0" fill="none"/>
<line x1="1930.30" y1="1712.50" x2="1989.50" y2="1712.50" stroke="#2a2a2a" stroke-width="1.0"/>
<line x1="1930.30" y1="1717.10" x2="1989.50" y2="1717.10" stroke="#2a2a2a" stroke-width="1.6"/>
<line x1="1935.80" y1="1714.50" x2="1951.80" y2="1714.50" stroke="#2a2a2a" stroke-width="1.3"/>
<ellipse cx="1982.50" cy="1714.50" rx="2.00" ry="0.60" stroke="#2a2a2a" stroke-width="0.9" fill="none"/>
<rect x="1941.05" y="1721.40" width="37.55" height="31.00" fill="none" stroke="#2a2a2a" stroke-width="1.0" rx="5"/>
<g opacity="0.999">
<text x="1019.00" y="476.00" font-size="32.5" text-anchor="middle" fill="#000">Bedroom</text>
<text x="1019.00" y="515.00" font-size="32.5" text-anchor="middle" fill="#000">19'4&quot;x13'2&quot;</text>
<text x="1361.50" y="422.50" font-size="27.3" text-anchor="middle" fill="#000">Bath</text>
<text x="1443.40" y="542.50" font-size="27.3" text-anchor="middle" fill="#000">Shr</text>
<text x="1761.90" y="424.50" font-size="27.3" text-anchor="middle" fill="#000">Shr</text>
<text x="1932.50" y="427.50" font-size="27.3" text-anchor="middle" fill="#000">Bathroom</text>
<text x="2195.90" y="392.00" font-size="27.3" text-anchor="middle" fill="#000">WIC</text>
<text x="1588.75" y="659.25" font-size="32.5" text-anchor="middle" fill="#000">Bedroom</text>
<text x="1589.00" y="697.50" font-size="32.5" text-anchor="middle" fill="#000">12'11&quot;x18'3&quot;</text>
<text x="2036.60" y="725.00" font-size="32.5" text-anchor="middle" fill="#000">Bedroom</text>
<text x="2036.50" y="763.25" font-size="32.5" text-anchor="middle" fill="#000">17'11&quot;x16'1&quot;</text>
<text x="830.40" y="715.00" font-size="27.3" text-anchor="middle" fill="#000">Closet</text>
<text x="1037.50" y="1013.00" font-size="32.5" text-anchor="middle" fill="#000">Living Room</text>
<text x="1037.50" y="1051.25" font-size="32.5" text-anchor="middle" fill="#000">20'5&quot;x20'7&quot;</text>
<text x="1908.00" y="1130.50" font-size="32.5" text-anchor="middle" fill="#000">Formal</text>
<text x="1908.00" y="1169.50" font-size="32.5" text-anchor="middle" fill="#000">Living Room</text>
<text x="1908.50" y="1208.00" font-size="32.5" text-anchor="middle" fill="#000">24'3&quot;x15'8&quot;</text>
<text x="1020.40" y="1541.25" font-size="32.5" text-anchor="middle" fill="#000">Dining Room</text>
<text x="1020.40" y="1580.00" font-size="32.5" text-anchor="middle" fill="#000">21'6&quot;x7'4&quot;</text>
<text x="1562.00" y="1655.50" font-size="32.5" text-anchor="middle" fill="#000">Kitchen</text>
<text x="1562.00" y="1694.00" font-size="32.5" text-anchor="middle" fill="#000">17'10&quot;x12'5&quot;</text>
<text x="1904.75" y="1452.50" font-size="24.5" text-anchor="middle" fill="#000">1/2 Bath</text>
<text x="1976.60" y="1558.75" font-size="27.3" text-anchor="middle" fill="#000">Cl</text>
<text x="1918.40" y="1643.00" font-size="27.3" text-anchor="middle" fill="#000">Laundry</text>
<text x="2172.50" y="1592.50" font-size="32.5" text-anchor="middle" fill="#000">Office</text>
<text x="2173.00" y="1631.25" font-size="32.5" text-anchor="middle" fill="#000">9'4&quot;x11'10&quot;</text>
<text x="1293.50" y="329.20" font-size="27.3" text-anchor="middle" fill="#000" transform="rotate(-90 1293.50 329.20)">Closet</text>
<text x="1415.30" y="797.80" font-size="27.3" text-anchor="middle" fill="#000" transform="rotate(-90 1415.30 797.80)">Closet</text>
<text x="1806.00" y="686.00" font-size="27.3" text-anchor="middle" fill="#000" transform="rotate(-90 1806.00 686.00)">Closet</text>
<text x="2171.80" y="1875.30" font-size="33.5" text-anchor="middle" fill="#000">Total Area: 2925sqft</text>
<text x="1598.60" y="1933.20" font-size="45.5" text-anchor="middle" fill="#000">FLOOR PLAN</text>
</g>
<path d="M7.4,2016.3 C7.4,2007 12,2002.1 18.5,2002.1 C25.5,2002.1 30.2,2007 30.2,2014.5 C30.2,2021 25,2024.5 18.5,2028.5 C11,2033 7,2038 6.7,2044.9" stroke="#111" stroke-width="1.7" fill="none"/>
<path d="M51.5,2002.1 C43.5,2002.1 39.6,2011 39.6,2024 C39.6,2037 43.5,2045.6 51.5,2045.6" stroke="#111" stroke-width="1.7" fill="none"/>
<path d="M54.5,2006.5 C60.5,2008 63.1,2015 63.1,2024 C63.1,2033 60.5,2040 54.5,2041.5" stroke="#111" stroke-width="1.7" fill="none"/>
<path d="M72.6,2016.3 C72.6,2007 77.2,2002.1 83.7,2002.1 C90.7,2002.1 95.4,2007 95.4,2014.5 C95.4,2021 90.2,2024.5 83.7,2028.5 C76.2,2033 72.2,2038 71.9,2044.9" stroke="#111" stroke-width="1.7" fill="none"/>
<path d="M110.5,2003 L106.6,2026" stroke="#111" stroke-width="1.7" fill="none"/>
<path d="M108.5,2019 C112,2017 116,2017 118,2017.5" stroke="#111" stroke-width="1.7" fill="none"/>
<path d="M119.5,2022 C126,2023 128.8,2028 128.8,2033 C128.8,2040 124,2042 119.5,2042" stroke="#111" stroke-width="1.7" fill="none"/>
<path d="M104.6,2034.5 C105.5,2041 110,2045.6 116,2045.6" stroke="#111" stroke-width="1.7" fill="none"/>
<path d="M169.2,2001.9 L153.2,2044.9" stroke="#111" stroke-width="1.7" fill="none"/>
<path d="M172.9,2008.3 L179.6,2027.1" stroke="#111" stroke-width="1.7" fill="none"/>
<path d="M180.7,2032.3 L185.3,2044.9" stroke="#111" stroke-width="1.7" fill="none"/>
<path d="M197.3,2001.9 V2044.9" stroke="#111" stroke-width="1.7" fill="none"/>
<path d="M218.2,2006.9 C223.5,2008.5 226,2011 226,2014.2 C226,2018 223.5,2020.5 218.2,2021.6" stroke="#111" stroke-width="1.7" fill="none"/>
<path d="M219.6,2027.3 C222.5,2029 224,2031 224.3,2034 C224.8,2038 225,2042 225.5,2044.9" stroke="#111" stroke-width="1.7" fill="none"/>
<path d="M238.8,2001.9 V2044.9" stroke="#111" stroke-width="1.7" fill="none"/>
<path d="M245,2010.1 L256.4,2044.9" stroke="#111" stroke-width="1.7" fill="none"/>
<path d="M259.5,2038 L271.7,2001.9" stroke="#111" stroke-width="1.7" fill="none"/>
<path d="M274,2009.7 V2044.9" stroke="#111" stroke-width="1.7" fill="none"/>
<path d="M288.5,2001.9 V2044.9" stroke="#111" stroke-width="1.7" fill="none"/>
<path d="M345.8,2014.2 C344.5,2006 339,2001.4 332.6,2001.4 C323,2001.4 318.4,2006.5 318.4,2012.9 C318.4,2018 321,2021 324.3,2022.9" stroke="#111" stroke-width="1.7" fill="none"/>
<path d="M324.3,2022.9 L341.7,2027.5" stroke="#111" stroke-width="1.7" fill="none"/>
<path d="M341.7,2027.5 C345,2029 346.7,2031 346.7,2033.9 C346.7,2037.5 344.5,2040 341.7,2040.8" stroke="#111" stroke-width="1.7" fill="none"/>
<path d="M332.6,2045.4 C323,2045.4 317.5,2040 317.5,2031.2" stroke="#111" stroke-width="1.7" fill="none"/>
<path d="M15.7,2039 H35.3" stroke="#dcdcdc" stroke-width="1.3" fill="none"/>
<path d="M81,2039 H100.5" stroke="#dcdcdc" stroke-width="1.3" fill="none"/>
<path d="M114.5,2008.4 H131" stroke="#dcdcdc" stroke-width="1.3" fill="none"/>
<path d="M166,2027.3 H178.9" stroke="#dcdcdc" stroke-width="1.3" fill="none"/>
<path d="M203.5,2006.5 H218" stroke="#dcdcdc" stroke-width="1.3" fill="none"/>
<path d="M202.6,2026.4 H218" stroke="#dcdcdc" stroke-width="1.3" fill="none"/>
<path d="M295,2040.3 H313.3" stroke="#dcdcdc" stroke-width="1.3" fill="none"/>
<path d="M306.5,2016 H311" stroke="#dcdcdc" stroke-width="1.3" fill="none"/>
</svg>
</body></html>
